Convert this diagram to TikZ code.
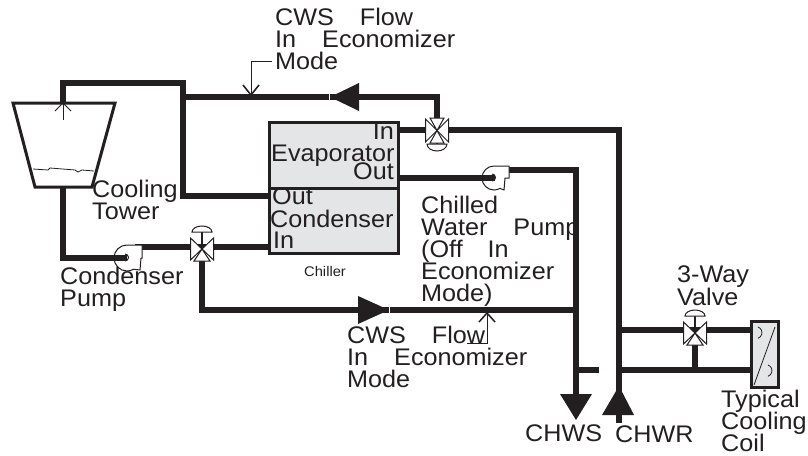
\documentclass[tikz,border=0pt]{standalone}
\usepackage{fontspec}
\setmainfont[FakeStretch=1.05]{Liberation Sans}
\AtBeginDocument{\lineskiplimit=-30pt \normallineskiplimit=-30pt }
\begin{document}
\begin{tikzpicture}[x=1pt,y=-1pt,
  lbl/.style={inner sep=0pt,anchor=north west,align=left,font=\fontsize{24}{22.2}\selectfont,text=ink},
  pipe/.style={line width=6pt,draw=ink},
  leader/.style={line width=0.8pt,draw=ink},
  head/.style={fill=ink,draw=none},
  equip/.style={draw=ink,line width=3pt,fill=box},
  vbody/.style={draw=ink,line width=1pt,fill=white},
]
\definecolor{ink}{HTML}{231F20}
\definecolor{box}{HTML}{E4E5E6}
\useasboundingbox (0,0) rectangle (808,455);
% label lying under the pipe
\node[lbl] (L11) at (421,195.5) {Chilled\\Water\hspace{26pt}Pump\\(Off\hspace{25pt}In\\Economizer\\Mode)};
% coordinates
\coordinate (T) at (63,103);
\coordinate (TB) at (63,187);
\coordinate (V1) at (437,130);
\coordinate (V2) at (202,249);
\coordinate (V3) at (695,333);
\coordinate (P1) at (127,258);
\coordinate (P2) at (495,178);
% pipes
\draw[pipe,line join=miter] (T) -- (63,83) -- (183,83) -- (183,196) -- (270,196);
\draw[pipe] (183,97) -- (340,97);
\draw[pipe] (350,97) -- (437,97) -- (V1);
\draw[pipe] (398,130) -- (618.5,130) -- (618.5,423);
\draw[pipe] (503,170) -- (576,170) -- (576,400);
\draw[pipe] (TB) -- (63,258) -- (P1);
\draw[pipe] (135,247) -- (270,247);
\draw[pipe] (V2) -- (202,310) -- (576,310);
\draw[pipe] (576,370) -- (599,370);
\draw[pipe] (618,330) -- (751,330);
\draw[pipe] (618,370) -- (751,370);
\draw[pipe] (V3) -- (695,370);
% big arrow heads
\path[head] (330,97) -- (359,83) -- (359,111) -- cycle;
\path[head] (389,310) -- (358,296) -- (358,324) -- cycle;
\path[draw=white,line width=1pt] (389.5,304) -- (389.5,316);
\path[draw=white,line width=1pt] (329.5,91) -- (329.5,103);
\path[head] (576,420) -- (560,394) -- (592,394) -- cycle;
\path[head] (619,386) -- (602,415) -- (634,415) -- cycle;
% tower
\draw[draw=ink,line width=3pt,fill=white,line join=miter] (13,103) -- (115,103) -- (92,187) -- (35,187) -- cycle;
\draw[leader] (33,169) -- (48,170) -- (50,168) -- (75,170) -- (78,172) -- (82,170) -- (94,171);
\draw[leader] (63,120) -- (63,104);
\draw[leader] (55,111) -- (63,103) -- (71,111);
% chiller
\draw[equip] (269,122) rectangle (398,253);
\draw[draw=ink,line width=3pt] (269,188) -- (398,188);
% coil
\draw[equip] (751,321) rectangle (778,387);
\draw[leader] (775,327) -- (754,385);
\draw[leader] (758,327) arc[start angle=-70,end angle=70,radius=6];
\draw[leader] (768,365) arc[start angle=-70,end angle=70,radius=6];
% valve 1 (bonnet below)
\draw[line width=1.5pt,draw=ink] (437,130) -- (437,144);
\draw[line width=1pt,draw=ink,fill=white] (427,144) -- (447,144) arc[start angle=0,end angle=180,x radius=10,y radius=7] -- cycle;
\draw[vbody] (425.5,119) -- (425.5,142) -- (448.5,119) -- (448.5,142) -- cycle;
\draw[vbody] (437,130.5) -- (430,118) -- (444,118) -- cycle;
\draw[vbody] (437,130.5) -- (430,143) -- (444,143) -- cycle;
% valve 2 (bonnet above)
\draw[line width=1.5pt,draw=ink] (202,249) -- (202,232);
\draw[line width=1pt,draw=ink,fill=white] (192,232) -- (212,232) arc[start angle=0,end angle=-180,x radius=10,y radius=6] -- cycle;
\draw[vbody] (190.5,238) -- (190.5,260) -- (213.5,238) -- (213.5,260) -- cycle;
\draw[vbody] (202,249) -- (194,261) -- (210,261) -- cycle;
% valve 3 (bonnet above)
\draw[line width=1.5pt,draw=ink] (695,333) -- (695,316);
\draw[line width=1pt,draw=ink,fill=white] (685,316) -- (705,316) arc[start angle=0,end angle=-180,x radius=10,y radius=6] -- cycle;
\draw[vbody] (683.5,322) -- (683.5,344) -- (706.5,322) -- (706.5,344) -- cycle;
\draw[vbody] (695,333) -- (687,345) -- (703,345) -- cycle;
% pumps
\draw[line width=1pt,draw=ink,fill=white] (142,245) -- (127,245) arc[start angle=-90,end angle=-300,radius=13] -- (140,270) -- (141,258) -- (142,258) -- cycle;
\draw[pipe] (63,258) -- (P1);
\draw[line width=1pt,draw=ink] (125,254) arc[start angle=-90,end angle=90,radius=3.5];
\draw[line width=1pt,draw=ink,fill=white] (509,166) -- (494,166) arc[start angle=-90,end angle=-300,radius=12] -- (504,190) -- (505,178) -- (509,178) -- cycle;
\draw[pipe] (398,178) -- (P2);
\draw[line width=1pt,draw=ink] (492,174) arc[start angle=-90,end angle=90,radius=3.5];
% labels
\node[lbl] (L1) at (275,7.5) {CWS\hspace{26pt}Flow\\In\hspace{26pt}Economizer\\Mode};
\coordinate (L1a) at (272,61);
\draw[leader] (L1a) -- (251,61) -- (251,94);
\draw[line width=1.5pt,draw=ink] (243,85) -- (251,95) -- (259,85);
\node[lbl] (L2) at (92,179.5) {Cooling\\Tower};
\node[lbl] (L3) at (60,266.5) {Condenser\\Pump};
\node[lbl,anchor=north east] (L4) at (394,123) {In};
\node[lbl] (L5) at (271,145) {Evaporator};
\node[lbl,anchor=north east] (L6) at (394,163) {Out};
\node[lbl] (L7) at (272,188) {Out};
\node[lbl] (L8) at (270,209.5) {Condenser};
\node[lbl] (L9) at (273,232) {In};
\node[inner sep=0pt,anchor=north west,font=\fontsize{14}{14}\selectfont,text=ink] (L10) at (304,266) {Chiller};
\node[lbl] (L12) at (347,325.5) {CWS\hspace{26pt}Flow\\In\hspace{26pt}Economizer\\Mode};
\coordinate (L12a) at (467,343);
\draw[leader] (L12a) -- (487,343) -- (487,314);
\draw[line width=1.5pt,draw=ink] (479,322) -- (487,313) -- (495,322);
\node[lbl] (L13) at (525,425) {CHWS};
\node[lbl] (L14) at (615,426) {CHWR};
\node[lbl] (L15) at (677,266) {3-Way\\Valve};
\node[lbl] (L16) at (721,389.5) {Typical\\Cooling\\Coil};
\end{tikzpicture}
\end{document}
